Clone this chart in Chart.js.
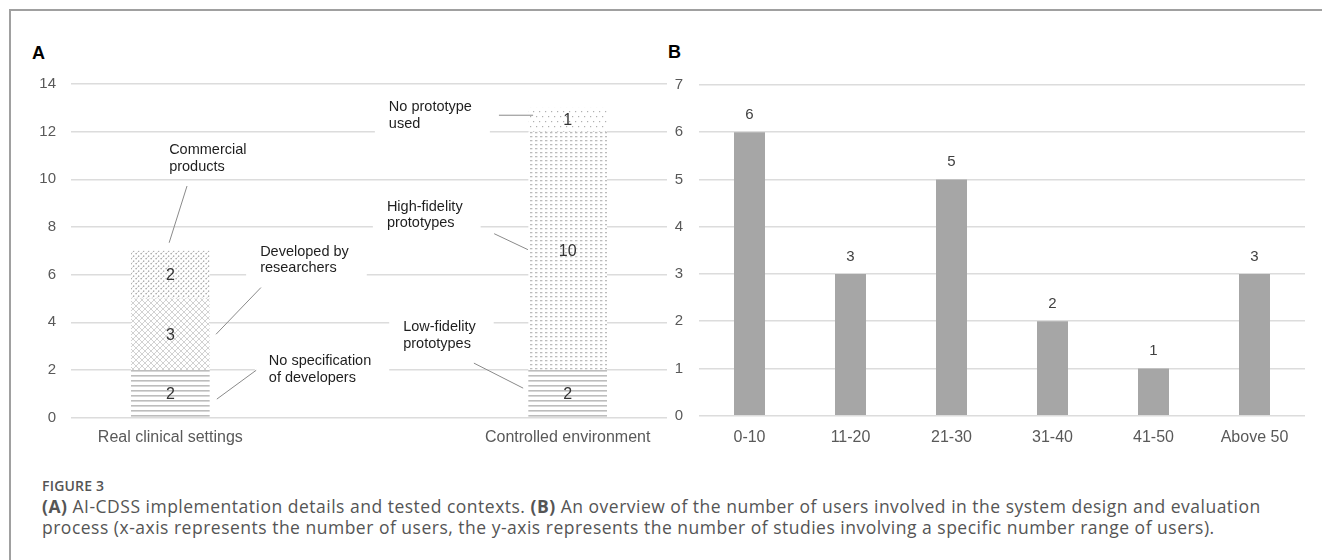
<!DOCTYPE html>
<html>
<head>
<meta charset="utf-8">
<script src="https://cdn.jsdelivr.net/npm/chart.js@4.4.1/dist/chart.umd.min.js"></script>
<style>
html,body{margin:0;padding:0;background:#fff;width:1322px;height:560px;overflow:hidden;}
#frame{position:absolute;left:9px;top:9px;width:1330px;height:560px;border-left:2px solid #a0a0a0;border-top:2px solid #a0a0a0;box-sizing:border-box;}
.panel{position:absolute;font-family:"Liberation Sans",Arial,sans-serif;font-weight:bold;font-size:18px;color:#000;line-height:18px;}
#wrapA{position:absolute;left:10px;top:60px;width:660px;height:400px;}
#wrapB{position:absolute;left:660px;top:60px;width:662px;height:400px;}
#cap{position:absolute;left:42px;top:477px;font-family:"Open Sans",sans-serif;color:#555555;white-space:nowrap;}
#cap .fig{font-size:14px;font-weight:600;color:#555;line-height:18px;letter-spacing:0.2px;}
#cap .txt{font-size:17.5px;line-height:20.5px;letter-spacing:0.5px;margin-top:1px;}
#cap b{font-weight:700;}
</style>
</head>
<body>
<div id="frame"></div>
<div class="panel" style="left:32px;top:44px;">A</div>
<div class="panel" style="left:668px;top:43px;">B</div>
<div id="wrapA"><canvas id="chartA" width="660" height="400"></canvas></div>
<div id="wrapB"><canvas id="chartB" width="662" height="400"></canvas></div>
<div id="cap">
  <div class="fig">FIGURE 3</div>
  <div class="txt"><b>(A)</b> AI-CDSS implementation details and tested contexts. <b>(B)</b> An overview of the number of users involved in the system design and evaluation<br>process (x-axis represents the number of users, the y-axis represents the number of studies involving a specific number range of users).</div>
</div>
<script>
// ---------------- DATA ----------------
const categoriesA = ['Real clinical settings', 'Controlled environment'];
// stacked segments, bottom to top
const bottomValuesA = [2, 2];   // No specification of developers / Low-fidelity prototypes
const middleValuesA = [3, 10];  // Developed by researchers / High-fidelity prototypes
const topValuesA    = [2, 1];   // Commercial products / No prototype used
const bottomNamesA = ['No specification of developers', 'Low-fidelity prototypes'];
const middleNamesA = ['Developed by researchers', 'High-fidelity prototypes'];
const topNamesA    = ['Commercial products', 'No prototype used'];
const yTicksA = [0, 2, 4, 6, 8, 10, 12, 14];

const categoriesB = ['0-10', '11-20', '21-30', '31-40', '41-50', 'Above 50'];
const valuesB = [6, 3, 5, 2, 1, 3];
const yTicksB = [0, 1, 2, 3, 4, 5, 6, 7];

// ---------------- STYLE ----------------
const FONT = '"Liberation Sans", Arial, Helvetica, sans-serif';
const GRID = '#dcdcdc';
const TICK = '#595959';

function makePattern(w, h, draw) {
  const c = document.createElement('canvas');
  c.width = w; c.height = h;
  const g = c.getContext('2d');
  g.fillStyle = '#ffffff'; g.fillRect(0, 0, w, h);
  draw(g);
  return document.createElement('canvas').getContext('2d').createPattern(c, 'repeat');
}
const patHLines = makePattern(8, 5, g => { g.fillStyle = '#bdbdbd'; g.fillRect(0, 0, 8, 1.6); });
const patCross = makePattern(6, 6, g => {
  g.strokeStyle = '#cdcdcd'; g.lineWidth = 0.9;
  g.beginPath();
  g.moveTo(0, 0); g.lineTo(6, 6);
  g.moveTo(0, 6); g.lineTo(6, 0);
  g.moveTo(-3, 3); g.lineTo(3, 9); g.moveTo(3, -3); g.lineTo(9, 3);
  g.moveTo(-3, 3); g.lineTo(3, -3); g.moveTo(3, 9); g.lineTo(9, 3);
  g.stroke();
});
const patDense = makePattern(5, 5, g => {
  g.fillStyle = '#9c9c9c';
  g.fillRect(0.5, 3, 1.3, 1.3);
  g.fillRect(3, 0.5, 1.3, 1.3);
  g.fillStyle = '#d0d0d0';
  g.fillRect(1.8, 1.8, 1, 1);
});
const patDash = makePattern(5, 4.4, g => { g.fillStyle = '#bcbcbc'; g.fillRect(0, 0, 2.4, 1.3); });
const patSparse = makePattern(6, 10, g => {
  g.fillStyle = '#b0b0b0';
  g.fillRect(1, 1, 1.2, 1.2);
  g.fillRect(4, 6, 1.2, 1.2);
});

// annotations for panel A (positions in data space of the chart's scales)
const annotationsA = [
  { lines: ['Commercial', 'products'],        at: [-0.003, 11.23], from: [0.042, 9.72],  to: [-0.003, 7.34] },
  { lines: ['Developed by', 'researchers'],   at: [0.226, 6.97],   from: [0.228, 5.46],  to: [0.115, 3.50] },
  { lines: ['No specification', 'of developers'], at: [0.248, 2.37], from: [0.216, 1.99], to: [0.117, 0.78] },
  { lines: ['No prototype', 'used'],          at: [0.550, 13.03],  from: [0.827, 12.69], to: [0.913, 12.69] },
  { lines: ['High-fidelity', 'prototypes'],   at: [0.545, 8.85],   from: [0.815, 7.72],  to: [0.900, 7.05] },
  { lines: ['Low-fidelity', 'prototypes'],    at: [0.586, 3.79],   from: [0.764, 2.29],  to: [0.888, 1.24] }
];

const segLabelsA = {
  id: 'segLabelsA',
  afterDatasetsDraw(chart) {
    const ctx = chart.ctx;
    ctx.save();
    ctx.font = '16px ' + FONT;
    ctx.fillStyle = '#333333';
    ctx.textAlign = 'center';
    ctx.textBaseline = 'middle';
    chart.data.datasets.forEach((ds, di) => {
      const meta = chart.getDatasetMeta(di);
      meta.data.forEach((el, i) => {
        const v = ds.data[i].y;
        ctx.fillText(String(v), el.x, (el.y + el.base) / 2 + 1);
      });
    });
    const { x, y } = chart.scales;
    ctx.font = '14.5px ' + FONT;
    const lh = 16.5;
    // white boxes
    annotationsA.forEach(a => {
      const px = x.getPixelForValue(a.at[0]), py = y.getPixelForValue(a.at[1]);
      const w = Math.max(...a.lines.map(l => ctx.measureText(l).width));
      ctx.fillStyle = '#ffffff';
      ctx.fillRect(px - 14, py - 12, w + 32, lh * (a.lines.length - 1) + 24);
    });
    // leader lines
    ctx.strokeStyle = '#8a8a8a';
    ctx.lineWidth = 1;
    annotationsA.forEach(a => {
      ctx.beginPath();
      ctx.moveTo(x.getPixelForValue(a.from[0]), y.getPixelForValue(a.from[1]));
      ctx.lineTo(x.getPixelForValue(a.to[0]), y.getPixelForValue(a.to[1]));
      ctx.stroke();
    });
    // texts
    ctx.fillStyle = '#1e1e1e';
    ctx.textAlign = 'left';
    annotationsA.forEach(a => {
      const px = x.getPixelForValue(a.at[0]), py = y.getPixelForValue(a.at[1]);
      a.lines.forEach((l, i) => ctx.fillText(l, px, py + i * lh));
    });
    ctx.restore();
  }
};

const pts = vals => vals.map((v, i) => ({ x: i, y: v }));

new Chart(document.getElementById('chartA'), {
  type: 'bar',
  data: {
    datasets: [
      { label: 'bottom', data: pts(bottomValuesA), backgroundColor: [patHLines, patHLines], names: bottomNamesA },
      { label: 'middle', data: pts(middleValuesA), backgroundColor: [patCross, patDash], names: middleNamesA },
      { label: 'top', data: pts(topValuesA), backgroundColor: [patDense, patSparse], names: topNamesA }
    ]
  },
  options: {
    responsive: false,
    animation: false,
    events: [],
    layout: { padding: { top: 22.7, right: 3, left: 0, bottom: 0 } },
    datasets: { bar: { barPercentage: 0.198, categoryPercentage: 1, borderWidth: 0 } },
    plugins: { legend: { display: false }, tooltip: { enabled: false } },
    scales: {
      x: {
        type: 'linear', stacked: true, min: -0.25, max: 1.25, offset: false,
        afterBuildTicks: s => { s.ticks = categoriesA.map((_, i) => ({ value: i })); },
        afterFit: s => { s.height = 42.3; },
        grid: { display: false, drawTicks: false },
        border: { display: false },
        ticks: { callback: v => categoriesA[v], color: TICK, font: { family: FONT, size: 16 }, padding: 10, maxRotation: 0, autoSkip: false }
      },
      y: {
        stacked: true, min: 0, max: 14,
        afterBuildTicks: s => { s.ticks = yTicksA.map(v => ({ value: v })); },
        afterFit: s => { s.width = 61; },
        grid: { color: GRID, lineWidth: 1.5, drawTicks: false },
        border: { display: false },
        ticks: { color: TICK, font: { family: FONT, size: 15 }, padding: 15 }
      }
    }
  },
  plugins: [segLabelsA]
});

const topLabelsB = {
  id: 'topLabelsB',
  afterDatasetsDraw(chart) {
    const ctx = chart.ctx;
    ctx.save();
    ctx.font = '15px ' + FONT;
    ctx.fillStyle = '#404040';
    ctx.textAlign = 'center';
    ctx.textBaseline = 'middle';
    const ds = chart.data.datasets[0];
    chart.getDatasetMeta(0).data.forEach((el, i) => {
      ctx.fillText(String(ds.data[i]), el.x, el.y - 17.5);
    });
    ctx.restore();
  }
};

new Chart(document.getElementById('chartB'), {
  type: 'bar',
  data: {
    labels: categoriesB,
    datasets: [{ label: 'Studies', data: valuesB, backgroundColor: '#a6a6a6', borderWidth: 0 }]
  },
  options: {
    responsive: false,
    animation: false,
    events: [],
    layout: { padding: { top: 20.7, right: 17, left: 0, bottom: 0 } },
    datasets: { bar: { barPercentage: 0.307, categoryPercentage: 1 } },
    plugins: { legend: { display: false }, tooltip: { enabled: false } },
    scales: {
      x: {
        afterFit: s => { s.height = 44.3; },
        grid: { display: false, drawTicks: false },
        border: { display: false },
        ticks: { color: TICK, font: { family: FONT, size: 16 }, padding: 12, maxRotation: 0, autoSkip: false }
      },
      y: {
        min: 0, max: 7,
        afterBuildTicks: s => { s.ticks = yTicksB.map(v => ({ value: v })); },
        afterFit: s => { s.width = 39; },
        grid: { color: GRID, lineWidth: 1.5, drawTicks: false },
        border: { display: false },
        ticks: { color: TICK, font: { family: FONT, size: 15 }, padding: 16 }
      }
    }
  },
  plugins: [topLabelsB]
});
</script>
</body>
</html>
